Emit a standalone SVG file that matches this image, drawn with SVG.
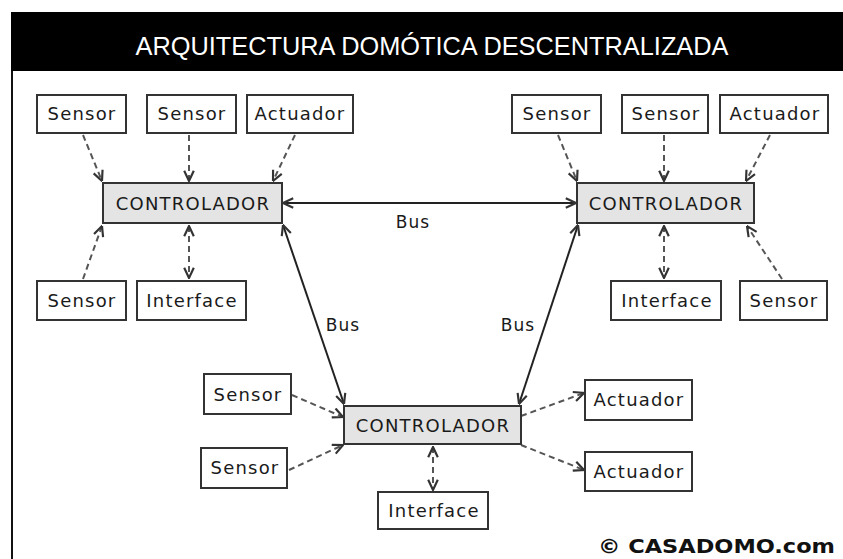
<svg xmlns="http://www.w3.org/2000/svg" width="843" height="559" viewBox="0 0 843 559">
<defs>
<style>
.box{fill:#fff;stroke:#333;stroke-width:2}
.ctl{fill:#e4e4e4;stroke:#333;stroke-width:2}
.lbl{font-family:"DejaVu Sans",Verdana,sans-serif;font-size:18px;letter-spacing:1.2px;fill:#1a1a1a;text-anchor:middle}
.bus{stroke:#222;stroke-width:2;fill:none}
.dash{stroke:#555;stroke-width:2;stroke-dasharray:6 4;fill:none}
.buslbl{font-family:"DejaVu Sans",Verdana,sans-serif;font-size:17px;letter-spacing:1px;fill:#1a1a1a;text-anchor:middle}
</style>
<marker id="ah" viewBox="0 0 10 10" refX="9.5" refY="5" markerWidth="12" markerHeight="12" markerUnits="userSpaceOnUse" orient="auto-start-reverse">
<path d="M1,1 L9.5,5 L1,9" fill="none" stroke="#333" stroke-width="1.8"/>
</marker>
</defs>
<rect width="843" height="559" fill="#fff"/>
<rect x="11" y="12" width="832" height="59" fill="#000"/>
<line x1="12" y1="71" x2="12" y2="559" stroke="#111" stroke-width="2"/>
<text x="432" y="55" font-family="'Liberation Sans Narrow','Liberation Sans',Arial,sans-serif" font-size="25" fill="#fff" text-anchor="middle" textLength="593" lengthAdjust="spacingAndGlyphs">ARQUITECTURA DOMÓTICA DESCENTRALIZADA</text>

<g id="connectors">
<line class="bus" x1="283" y1="203" x2="576" y2="203" marker-start="url(#ah)" marker-end="url(#ah)"/>
<line class="bus" x1="283" y1="225" x2="344" y2="404" marker-start="url(#ah)" marker-end="url(#ah)"/>
<line class="bus" x1="578" y1="225" x2="519" y2="404" marker-start="url(#ah)" marker-end="url(#ah)"/>
<line class="dash" x1="83" y1="135" x2="102" y2="181" marker-end="url(#ah)"/>
<line class="dash" x1="189" y1="135" x2="189" y2="181" marker-end="url(#ah)"/>
<line class="dash" x1="295" y1="135" x2="273" y2="181" marker-end="url(#ah)"/>
<line class="dash" x1="83" y1="279" x2="102" y2="226" marker-end="url(#ah)"/>
<line class="dash" x1="189" y1="226" x2="189" y2="278" marker-start="url(#ah)" marker-end="url(#ah)"/>
<line class="dash" x1="558" y1="135" x2="577" y2="181" marker-end="url(#ah)"/>
<line class="dash" x1="664" y1="135" x2="664" y2="181" marker-end="url(#ah)"/>
<line class="dash" x1="770" y1="135" x2="746" y2="181" marker-end="url(#ah)"/>
<line class="dash" x1="664" y1="226" x2="664" y2="278" marker-start="url(#ah)" marker-end="url(#ah)"/>
<line class="dash" x1="782" y1="279" x2="747" y2="226" marker-end="url(#ah)"/>
<line class="dash" x1="292" y1="395" x2="343" y2="417" marker-end="url(#ah)"/>
<line class="dash" x1="289" y1="470" x2="343" y2="445" marker-end="url(#ah)"/>
<line class="dash" x1="433" y1="447" x2="433" y2="490" marker-start="url(#ah)" marker-end="url(#ah)"/>
<line class="dash" x1="521" y1="416" x2="584" y2="393" marker-end="url(#ah)"/>
<line class="dash" x1="521" y1="445" x2="584" y2="470" marker-end="url(#ah)"/>
<text class="buslbl" x="413" y="228">Bus</text>
<text class="buslbl" x="343" y="331">Bus</text>
<text class="buslbl" x="518" y="331">Bus</text>
</g>

<g id="ctl-left"><rect class="ctl" x="103" y="183" width="179" height="40"/><text class="lbl" x="193" y="210">CONTROLADOR</text></g>
<g id="ctl-right"><rect class="ctl" x="577" y="183" width="177" height="40"/><text class="lbl" x="666" y="210">CONTROLADOR</text></g>
<g id="ctl-bottom"><rect class="ctl" x="344" y="406" width="177" height="38"/><text class="lbl" x="433" y="432">CONTROLADOR</text></g>

<g id="sensor-tl1"><rect class="box" x="37" y="95" width="89" height="38"/><text class="lbl" x="82" y="120">Sensor</text></g>
<g id="sensor-tl2"><rect class="box" x="147" y="95" width="89" height="38"/><text class="lbl" x="192" y="120">Sensor</text></g>
<g id="actuador-tl"><rect class="box" x="247" y="95" width="106" height="38"/><text class="lbl" x="300" y="120">Actuador</text></g>
<g id="sensor-bl"><rect class="box" x="37" y="281" width="89" height="39"/><text class="lbl" x="82" y="307">Sensor</text></g>
<g id="interface-l"><rect class="box" x="137" y="281" width="109" height="39"/><text class="lbl" x="192" y="307">Interface</text></g>

<g id="sensor-tr1"><rect class="box" x="512" y="95" width="89" height="38"/><text class="lbl" x="557" y="120">Sensor</text></g>
<g id="sensor-tr2"><rect class="box" x="622" y="95" width="86" height="38"/><text class="lbl" x="666" y="120">Sensor</text></g>
<g id="actuador-tr"><rect class="box" x="720" y="95" width="108" height="38"/><text class="lbl" x="775" y="120">Actuador</text></g>
<g id="interface-r"><rect class="box" x="611" y="281" width="110" height="39"/><text class="lbl" x="667" y="307">Interface</text></g>
<g id="sensor-r"><rect class="box" x="740" y="281" width="87" height="39"/><text class="lbl" x="784" y="307">Sensor</text></g>

<g id="sensor-b1"><rect class="box" x="204" y="374" width="87" height="40"/><text class="lbl" x="248" y="401">Sensor</text></g>
<g id="sensor-b2"><rect class="box" x="201" y="448" width="86" height="40"/><text class="lbl" x="245" y="474">Sensor</text></g>
<g id="interface-b"><rect class="box" x="378" y="492" width="110" height="37"/><text class="lbl" x="434" y="517">Interface</text></g>
<g id="actuador-b1"><rect class="box" x="585" y="380" width="107" height="40"/><text class="lbl" x="639" y="406">Actuador</text></g>
<g id="actuador-b2"><rect class="box" x="585" y="452" width="107" height="39"/><text class="lbl" x="639" y="478">Actuador</text></g>

<text x="835" y="553" font-family="'DejaVu Sans',Verdana,sans-serif" font-size="20" font-weight="bold" fill="#111" text-anchor="end" textLength="237" lengthAdjust="spacingAndGlyphs">© CASADOMO.com</text>
</svg>
